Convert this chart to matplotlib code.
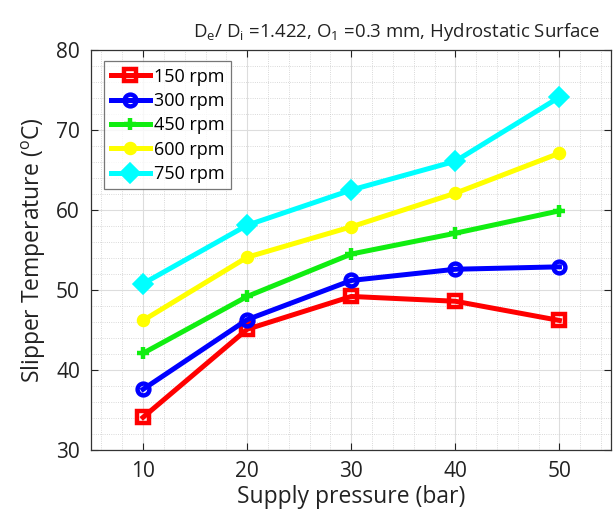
import matplotlib
matplotlib.use("Agg")
import matplotlib.pyplot as plt
from matplotlib.ticker import MultipleLocator

plt.rcParams['font.family'] = ['Open Sans', 'DejaVu Sans']
plt.rcParams['mathtext.fontset'] = 'custom'
plt.rcParams['mathtext.rm'] = 'Open Sans'
plt.rcParams['mathtext.it'] = 'Open Sans'

pressure = [10, 20, 30, 40, 50]
t150 = [34.1, 45.1, 49.2, 48.6, 46.2]
t300 = [37.6, 46.3, 51.2, 52.6, 52.9]
t450 = [42.1, 49.2, 54.5, 57.1, 59.9]
t600 = [46.2, 54.1, 57.9, 62.1, 67.1]
t750 = [50.8, 58.1, 62.5, 66.1, 74.1]
labels = ['150 rpm', '300 rpm', '450 rpm', '600 rpm', '750 rpm']

fig = plt.figure(figsize=(6.13, 5.15), dpi=100)
ax = fig.add_axes([0.1485, 0.126, 0.849, 0.777])

styles = [
    (t150, '#ff0000', 's', 8.5, 'none'),
    (t300, '#0000ff', 'o', 8.5, 'none'),
    (t450, '#11ee11', '+', 9, 'none'),
    (t600, '#ffff00', 'o', 6.5, '#ffff00'),
    (t750, '#00ffff', 'D', 8, '#00ffff'),
]
for (vals, c, m, ms, face), lab in zip(styles, labels):
    ax.plot(pressure, vals, color=c, lw=3.6, marker=m, ms=ms, mew=3.2,
            mfc=face, mec=c, label=lab)

ax.set_xlim(5, 55)
ax.set_ylim(30, 80)
ax.set_xticks(pressure)
ax.set_yticks([30, 40, 50, 60, 70, 80])
ax.xaxis.set_minor_locator(MultipleLocator(2))
ax.yaxis.set_minor_locator(MultipleLocator(2))
ax.grid(True, which='major', color='#dddddd', lw=0.8, ls='-')
ax.grid(True, which='minor', color='#cccccc', lw=0.6, ls=':')
ax.tick_params(which='both', direction='in', top=True, right=True, labelsize=15, colors='#222222')
ax.tick_params(which='major', length=5, pad=8)
ax.tick_params(which='minor', length=0)
for s in ax.spines.values():
    s.set_color('#333333')
    s.set_linewidth(0.9)

ax.set_xlabel('Supply pressure (bar)', fontsize=16.5, color='#222222', labelpad=2)
ax.set_ylabel(r'Slipper Temperature ($^\mathrm{o}$C)', fontsize=16.5, color='#222222', labelpad=6)
ax.set_title(r'D$_\mathrm{e}$/ D$_\mathrm{i}$ =1.422, O$_1$ =0.3 mm, Hydrostatic Surface',
             fontsize=13.4, color='#222222', pad=9, x=0.5875)

leg = ax.legend(loc='upper left', bbox_to_anchor=(0.015, 0.985), fontsize=13,
                frameon=True, fancybox=False, handlelength=2.2, handletextpad=0.2,
                borderpad=0.35, labelspacing=0.35, borderaxespad=0.3)
leg.get_frame().set_edgecolor('#555555')
leg.get_frame().set_linewidth(0.9)

fig.savefig('out.png', dpi=100)
